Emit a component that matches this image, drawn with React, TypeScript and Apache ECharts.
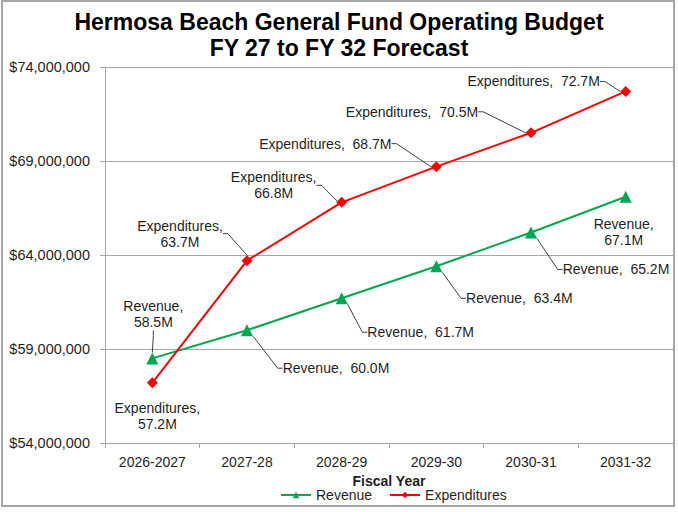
import React, { useEffect, useRef } from "react";
import * as echarts from "echarts";

const categories = ["2026-2027", "2027-28", "2028-29", "2029-30", "2030-31", "2031-32"];
const revenueM = [58.5, 60.0, 61.7, 63.4, 65.2, 67.1];
const expendituresM = [57.2, 63.7, 66.8, 68.7, 70.5, 72.7];
const yTicks = [54000000, 59000000, 64000000, 69000000, 74000000];

// label styling: [offsetX, offsetY, twoLines, showLeader]
const revLabelStyle: [number, number, boolean, boolean][] = [
  [1, -44, true, true],
  [89, 38, false, true],
  [79, 34, false, true],
  [83, 32, false, true],
  [85, 37, false, true],
  [-2, 35, true, false],
];
const expLabelStyle: [number, number, boolean, boolean][] = [
  [5, 33, true, false],
  [-67, -27, true, true],
  [-68, -17, true, true],
  [-111, -23, false, true],
  [-119, -21, false, true],
  [-92, -10, false, true],
];

const FONT = "'Liberation Sans', Arial, sans-serif";

function buildData(name: string, vals: number[], styles: [number, number, boolean, boolean][]) {
  return vals.map((v, i) => {
    const [dx, dy, two, leader] = styles[i];
    const txt = two ? `${name},\n${v.toFixed(1)}M` : `${name},  ${v.toFixed(1)}M`;
    return {
      value: v * 1e6,
      label: {
        show: true,
        position: "inside",
        offset: [dx, dy],
        formatter: txt,
        align: "center",
        verticalAlign: "middle",
        color: "#1f1f1f",
        fontSize: 14,
        fontFamily: FONT,
        lineHeight: 16,
      },
      labelLine: { show: leader },
    };
  });
}

export default function App() {
  const ref = useRef<HTMLDivElement>(null);
  useEffect(() => {
    const chart = echarts.init(ref.current!, null, { renderer: "svg" });
    const labelLineCommon = {
      length2: 5,
      lineStyle: { color: "#404040", width: 1 },
    };
    chart.setOption({
      animation: false,
      backgroundColor: "#ffffff",
      title: {
        text: "Hermosa Beach General Fund Operating Budget\nFY 27 to FY 32 Forecast",
        left: "center",
        top: 4,
        textStyle: {
          fontFamily: FONT,
          fontWeight: "bold",
          fontSize: 23,
          lineHeight: 26,
          color: "#000",
        },
      },
      graphic: [
        {
          type: "rect",
          shape: { x: 2, y: 1, width: 672, height: 505 },
          style: { fill: "none", stroke: "#a6a6a6", lineWidth: 2 },
          silent: true,
          z: -1,
        },
      ],
      grid: { left: 105, right: 5, top: 67, bottom: 69 },
      legend: {
        bottom: 10,
        left: 280,
        itemWidth: 30,
        itemHeight: 8,
        itemGap: 17,
        padding: 0,
        textStyle: { fontFamily: FONT, fontSize: 14, lineHeight: 14, color: "#1f1f1f" },
        data: ["Revenue", "Expenditures"],
      },
      xAxis: {
        type: "category",
        data: categories,
        boundaryGap: true,
        name: "Fiscal Year",
        nameLocation: "middle",
        nameGap: 29,
        nameTextStyle: { fontFamily: FONT, fontSize: 14, lineHeight: 14, fontWeight: "bold", color: "#1f1f1f" },
        axisLine: { lineStyle: { color: "#a6a6a6", width: 1 } },
        axisTick: { show: true, length: 5, lineStyle: { color: "#a6a6a6" } },
        axisLabel: { fontFamily: FONT, fontSize: 14, color: "#1f1f1f", margin: 12 },
      },
      yAxis: {
        type: "value",
        min: 54000000,
        max: 74000000,
        axisLine: { show: true, lineStyle: { color: "#a6a6a6", width: 1 } },
        axisTick: { show: true, length: 5, lineStyle: { color: "#a6a6a6" }, customValues: yTicks },
        axisLabel: {
          fontFamily: FONT,
          fontSize: 14.5,
          color: "#1f1f1f",
          margin: 15,
          customValues: yTicks,
          formatter: (v: number) => "$" + Math.round(v).toLocaleString("en-US"),
        },
        splitLine: { show: true, lineStyle: { color: "#a6a6a6", width: 1 } },
      },
      series: [
        {
          name: "Revenue",
          type: "line",
          data: buildData("Revenue", revenueM, revLabelStyle),
          symbol: "triangle",
          symbolSize: 12,
          itemStyle: { color: "#00a651" },
          lineStyle: { color: "#00a651", width: 2 },
          labelLine: labelLineCommon,
          z: 3,
        },
        {
          name: "Expenditures",
          type: "line",
          data: buildData("Expenditures", expendituresM, expLabelStyle),
          symbol: "diamond",
          symbolSize: 11,
          itemStyle: { color: "#ff0000" },
          lineStyle: { color: "#ff0000", width: 2 },
          labelLine: labelLineCommon,
          z: 4,
        },
      ],
    });
    return () => chart.dispose();
  }, []);
  return (
    <div
      ref={ref}
      style={{ position: "absolute", left: 0, top: 0, width: 678, height: 512 }}
    />
  );
}
